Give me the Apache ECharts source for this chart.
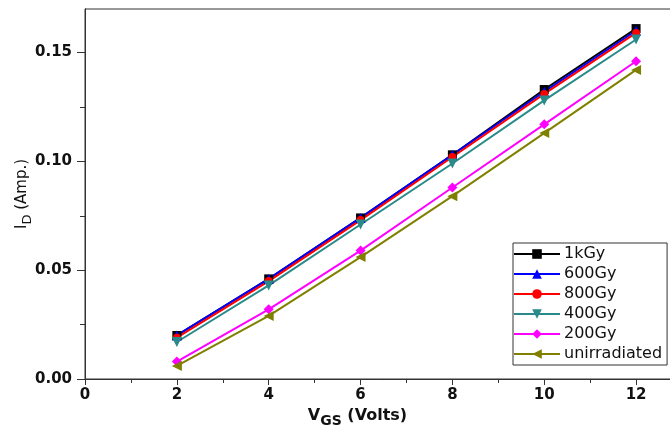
<!DOCTYPE html>
<html>
<head>
<meta charset="utf-8">
<script src="https://cdn.jsdelivr.net/npm/echarts@6/dist/echarts.min.js"></script>
<style>
  html, body { margin: 0; padding: 0; background: #fff; }
  #chart { width: 670px; height: 432px; }
</style>
</head>
<body>
<div id="chart"></div>
<script>
// V_GS (Volts)
const vgs = [2, 4, 6, 8, 10, 12]
// I_D (Amp.) per dose
const dose1k = [0.020, 0.046, 0.074, 0.103, 0.133, 0.161]
const dose600 = [0.020, 0.046, 0.074, 0.103, 0.132, 0.160]
const dose800 = [0.019, 0.045, 0.073, 0.102, 0.131, 0.159]
const dose400 = [0.017, 0.043, 0.071, 0.099, 0.128, 0.156]
const dose200 = [0.008, 0.032, 0.059, 0.088, 0.117, 0.146]
const unirradiated = [0.006, 0.029, 0.056, 0.084, 0.113, 0.142]
// y tick values
const yTicks = [0, 0.05, 0.1, 0.15]
const yMinorTicks = [0.025, 0.075, 0.125]

const downTri = 'path://M0,0 L10,0 L5,9 Z'
const leftTri = 'path://M9,0 L9,10 L0,5 Z'

const seriesDefs = [
  { name: '1kGy', data: dose1k, color: '#000000', symbol: 'rect', size: 9 },
  { name: '600Gy', data: dose600, color: '#0000ff', symbol: 'triangle', size: 10 },
  { name: '800Gy', data: dose800, color: '#ff0000', symbol: 'circle', size: 8 },
  { name: '400Gy', data: dose400, color: '#2a8a8a', symbol: downTri, size: 10 },
  { name: '200Gy', data: dose200, color: '#ff00ff', symbol: 'diamond', size: 10 },
  { name: 'unirradiated', data: unirradiated, color: '#808000', symbol: leftTri, size: 10 }
]

const font = 'DejaVu Sans, sans-serif'

const yAxisBase = {
  type: 'value', min: 0, max: 0.17,
  axisLine: { show: true, lineStyle: { color: '#333', width: 1 } },
  splitLine: { show: false }
}

let myChart = echarts.init(document.getElementById('chart'))
myChart.setOption({
  animation: false,
  grid: {
    left: 85, width: 597, top: 9, height: 370,
    outerBoundsMode: 'none', containLabel: false,
    show: true, borderColor: '#333', borderWidth: 1
  },
  legend: {
    orient: 'vertical',
    left: 513, top: 243,
    itemWidth: 46, itemHeight: 12, itemGap: 4,
    padding: [3, 5, 3, 0],
    borderColor: '#333', borderWidth: 1,
    backgroundColor: '#fff',
    textStyle: { fontFamily: font, fontSize: 16, color: '#111', padding: [0, 0, 0, -1] },
    data: seriesDefs.map(s => s.name)
  },
  xAxis: {
    type: 'value', min: 0, max: 13, interval: 2,
    name: '{v|V}{s|GS}{v| (Volts)}', nameLocation: 'middle', nameGap: 24,
    nameTextStyle: {
      padding: [0, 52, 0, 0],
      rich: {
        v: { fontFamily: font, fontSize: 16, fontWeight: 'bold', color: '#111' },
        s: { fontFamily: font, fontSize: 14, fontWeight: 'bold', color: '#111', padding: [10, 0, 0, 0] }
      }
    },
    axisLine: { lineStyle: { color: '#333', width: 1 } },
    axisTick: { inside: false, length: 6, lineStyle: { color: '#333' } },
    minorTick: { show: true, splitNumber: 2, length: 4, lineStyle: { color: '#333' } },
    axisLabel: { fontFamily: font, fontSize: 15, fontWeight: 'bold', color: '#111', margin: 9, showMaxLabel: false },
    splitLine: { show: false }
  },
  yAxis: [
    Object.assign({}, yAxisBase, {
      axisTick: { show: true, length: 8, customValues: yTicks, lineStyle: { color: '#333' } },
      axisLabel: {
        fontFamily: font, fontSize: 15, fontWeight: 'bold', color: '#111', margin: 13,
        customValues: yTicks,
        formatter: v => v.toFixed(2)
      }
    }),
    Object.assign({}, yAxisBase, {
      position: 'left',
      name: '{v|I}{s|D}{v| (Amp.)}', nameLocation: 'middle', nameGap: 51, nameRotate: 90,
      nameTextStyle: {
        rich: {
          v: { fontFamily: font, fontSize: 15, color: '#111' },
          s: { fontFamily: font, fontSize: 13, color: '#111', padding: [10, 0, 0, 0] }
        }
      },
      axisTick: { show: true, length: 5, customValues: yMinorTicks, lineStyle: { color: '#333' } },
      axisLabel: { show: false }
    })
  ],
  series: seriesDefs.map(s => ({
    name: s.name,
    type: 'line',
    data: vgs.map((x, i) => [x, s.data[i]]),
    symbol: s.symbol,
    symbolSize: s.size,
    showAllSymbol: true,
    itemStyle: { color: s.color },
    lineStyle: { color: s.color, width: 2 }
  }))
})
</script>
</body>
</html>
